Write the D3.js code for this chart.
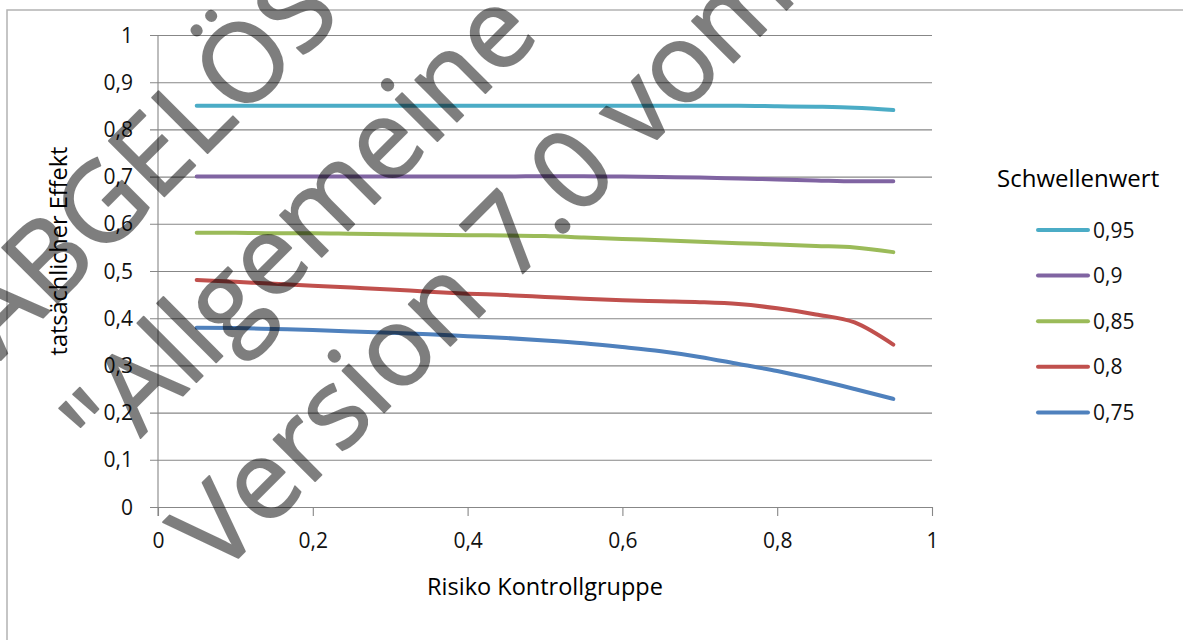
<!DOCTYPE html>
<html><head><meta charset="utf-8">
<script src="https://cdn.jsdelivr.net/npm/d3@7/dist/d3.min.js"></script>
<style>body{margin:0;background:#fff}svg{display:block}</style>
</head><body>
<svg id="chart" width="1183" height="640"></svg>
<script>
// ---- data ----
const xValues = [0.05,0.10,0.15,0.20,0.25,0.30,0.35,0.40,0.45,0.50,0.55,0.60,0.65,0.70,0.75,0.80,0.85,0.90,0.95];
const seriesNames = ["0,95","0,9","0,85","0,8","0,75"];
const values095 = [0.850,0.850,0.850,0.850,0.850,0.850,0.850,0.850,0.850,0.850,0.850,0.850,0.850,0.850,0.850,0.849,0.848,0.846,0.841];
const values090 = [0.700,0.700,0.700,0.700,0.700,0.700,0.700,0.700,0.700,0.701,0.701,0.700,0.699,0.698,0.696,0.694,0.692,0.690,0.690];
const values085 = [0.581,0.581,0.580,0.580,0.579,0.578,0.577,0.576,0.575,0.574,0.571,0.568,0.565,0.562,0.559,0.556,0.553,0.550,0.540];
const values080 = [0.481,0.477,0.473,0.469,0.465,0.461,0.456,0.452,0.449,0.445,0.441,0.438,0.436,0.434,0.430,0.421,0.408,0.391,0.344];
const values075 = [0.380,0.379,0.377,0.375,0.372,0.369,0.366,0.362,0.358,0.353,0.347,0.339,0.330,0.318,0.303,0.288,0.270,0.250,0.229];
const seriesValues = [values095, values090, values085, values080, values075];
const seriesColors = ["#4BACC6","#8064A2","#9BBB59","#C0504D","#4F81BD"];
const yTickValues = [0,0.1,0.2,0.3,0.4,0.5,0.6,0.7,0.8,0.9,1];
const xTickValues = [0,0.2,0.4,0.6,0.8,1];
const xTitle = "Risiko Kontrollgruppe";
const yTitle = "tatsächlicher Effekt";
const legendTitle = "Schwellenwert";
const watermarkLines = ["ABGELÖST", "\"Allgemeine", "Version 7.0 vom"];

// ---- layout ----
const svg = d3.select("#chart");
const pLeft = 158, pRight = 932, pTop = 35, pBottom = 507;
const FONT = "'Open Sans', sans-serif";
const fmt = d3.formatLocale({decimal:",", thousands:".", grouping:[3], currency:["","€"]}).format("~g");

const x = d3.scaleLinear().domain([0,1]).range([pLeft,pRight]);
const y = d3.scaleLinear().domain([0,1]).range([pBottom,pTop]);

svg.append("rect").attr("width",1183).attr("height",640).attr("fill","#fff");
// outer chart border
svg.append("rect").attr("x",7).attr("y",10).attr("width",1300).attr("height",800)
  .attr("fill","none").attr("stroke","#b3b3b3").attr("stroke-width",1.5);

// y axis with gridlines
const gy = svg.append("g").attr("transform",`translate(${pLeft},0)`)
  .call(d3.axisLeft(y).tickValues(yTickValues).tickSize(8).tickFormat(fmt));
gy.select(".domain").remove();
gy.selectAll(".tick line").attr("x1",-8).attr("x2",pRight-pLeft).attr("stroke","#878787").attr("stroke-width",1.1);
gy.selectAll(".tick text").attr("x",-25).attr("dy","0.34em")
  .attr("font-family",FONT).attr("font-size",21).attr("fill","#111");
svg.append("line").attr("x1",pLeft).attr("x2",pLeft).attr("y1",pTop).attr("y2",pBottom+9)
  .attr("stroke","#878787").attr("stroke-width",1.1);

// x axis
const gx = svg.append("g").attr("transform",`translate(0,${pBottom})`)
  .call(d3.axisBottom(x).tickValues(xTickValues).tickSize(9).tickSizeOuter(0).tickFormat(fmt));
gx.select(".domain").attr("stroke","#878787").attr("stroke-width",1.1);
gx.selectAll(".tick line").attr("stroke","#878787").attr("stroke-width",1.1);
gx.selectAll(".tick text").attr("y",34).attr("dy","0.34em")
  .attr("font-family",FONT).attr("font-size",21).attr("fill","#111");

// axis titles
svg.append("text").attr("x",545).attr("y",595).attr("text-anchor","middle")
  .attr("font-family",FONT).attr("font-size",23.5).attr("fill","#000").text(xTitle);
svg.append("text").attr("transform","translate(67,251) rotate(-90)").attr("text-anchor","middle")
  .attr("font-family",FONT).attr("font-size",23.5).attr("fill","#000").text(yTitle);

// lines
const line = d3.line().x(d=>x(d[0])).y(d=>y(d[1])).curve(d3.curveMonotoneX);
seriesValues.forEach((vals,i)=>{
  svg.append("path").datum(xValues.map((xv,j)=>[xv,vals[j]]))
    .attr("d",line).attr("fill","none").attr("stroke",seriesColors[i])
    .attr("stroke-width",4).attr("stroke-linecap","round").attr("stroke-linejoin","round");
});

// legend
svg.append("text").attr("x",997).attr("y",187).attr("font-family",FONT).attr("font-size",24)
  .attr("fill","#000").text(legendTitle);
const lg = svg.append("g");
seriesNames.forEach((name,i)=>{
  const ly = 230 + i*45.6;
  lg.append("line").attr("x1",1038).attr("x2",1088).attr("y1",ly).attr("y2",ly)
    .attr("stroke",seriesColors[i]).attr("stroke-width",4).attr("stroke-linecap","round");
  lg.append("text").attr("x",1093).attr("y",ly).attr("dy","0.36em")
    .attr("font-family",FONT).attr("font-size",21).attr("fill","#111").text(name);
});

// watermark (semi-transparent overlay)
const wm = svg.append("g").attr("transform","translate(0.7,360) rotate(-45)").attr("opacity",0.5);
watermarkLines.forEach((t,i)=>{
  wm.append("text").attr("x",0).attr("y",i*154).attr("font-family",FONT).attr("font-size",110)
    .attr("fill","#000").attr("stroke","#000").attr("stroke-width",1.8)
    .attr("stroke-linejoin","round").text(t);
});
</script>
</body></html>
